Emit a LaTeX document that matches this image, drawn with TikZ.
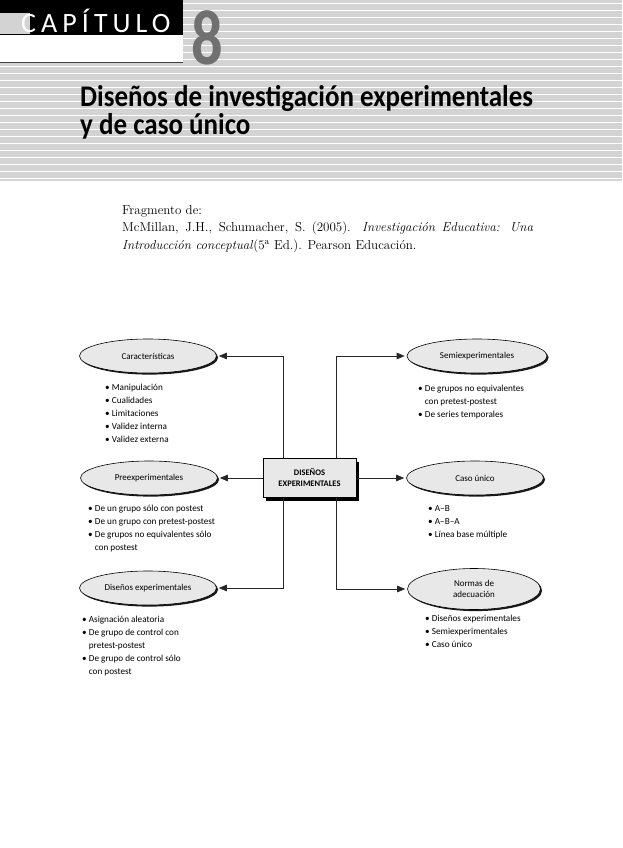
\documentclass[tikz,border=0pt]{standalone}
\usepackage{fontspec}
\usepackage{tikz}
\usetikzlibrary{positioning, arrows.meta, shapes.geometric, shadows}
\newfontfamily\diag{Carlito}
\newfontfamily\cond[FakeStretch=0.8]{Carlito}
\newfontfamily\tfont[FakeStretch=0.9]{Carlito}
\definecolor{HeadGray}{RGB}{211,211,211}
\definecolor{NumGray}{RGB}{112,112,112}
\definecolor{EllFill}{RGB}{232,232,232}
\tikzset{
  elip/.style={ellipse, draw=black, line width=0.6pt, fill=EllFill, minimum width=137pt, minimum height=34pt,
    inner sep=0pt, align=center, font=\diag\fontsize{9}{11}\selectfont,
    drop shadow={shadow xshift=1.6pt, shadow yshift=-1.6pt, fill=black, opacity=0.9}},
  cbox/.style={draw=black, line width=0.6pt, fill=EllFill, minimum width=93pt, minimum height=39pt,
    align=center, font=\diag\bfseries\fontsize{8.5}{11}\selectfont,
    drop shadow={shadow xshift=3pt, shadow yshift=-3pt, fill=black, opacity=1}},
  blist/.style={anchor=north west, inner sep=0pt, align=left, font=\diag\fontsize{9.2}{13}\selectfont},
  titl/.style={anchor=base west, inner sep=0pt, font=\tfont\bfseries\fontsize{30}{30}\selectfont},
  cite/.style={anchor=base west, inner sep=0pt, font=\fontsize{13}{15}\selectfont},
  arr/.style={-{Triangle[length=8pt,width=6.5pt]}, line width=0.6pt, draw=black!85, shorten >=2pt},
}
\newcommand{\itm}{\textbullet\ }
\newcommand{\ind}{\phantom{\textbullet}\ }

\begin{document}
\begin{tikzpicture}[x=1pt, y=-1pt]
  \useasboundingbox (0,0) rectangle (622,848);
  % cabecera
  \fill[HeadGray] (0,0) rectangle (622,181);
  \foreach \k in {0,...,25}
    \draw[white, line width=1.3pt] (0,{3.5+7*\k}) -- (622,{3.5+7*\k});
  \fill[black] (0,0) rectangle (183,35);
  \fill[HeadGray] (0,13) rectangle (30,34);
  \fill[white] (0,35) rectangle (183,62);
  \draw[black!75, line width=1.5pt] (0,62.5) -- (183,62.5);
  \node[anchor=base west, inner sep=0pt, text=white, font=\diag\fontsize{28}{28}\selectfont] (cap) at (21,33)
    {\addfontfeature{LetterSpace=18}CAPÍTULO};
  \node[anchor=base, inner sep=0pt, text=NumGray, font=\cond\bfseries\fontsize{78}{78}\selectfont] (num) at (207,65) {8};
  \node[titl] (tit1) at (80,107) {Diseños de investigación experimentales};
  \node[titl] (tit2) at (80,135) {y de caso único};
  % referencia
  \node[cite] (frag) at (122,214) {Fragmento de:};
  \node[cite] (ref1) at (122,231)
    {\makebox[411pt][s]{McMillan, J.H., Schumacher, S. (2005). \textit{Investigación Educativa: Una}}};
  \node[cite] (ref2) at (122,249) {\textit{Introducción conceptual}(5\textsuperscript{a} Ed.). Pearson Educación.};
  % esquema
  \node[cbox] (dis) at (309.5,478) {DISEÑOS\\EXPERIMENTALES};
  \node[elip] (car) at (148,356) {Características};
  \node[elip] (pre) at (149,478) {Preexperimentales};
  \node[elip] (exp) at (148,588) {Diseños experimentales};
  \node[elip, minimum width=140pt] (semi) at (477,356) {Semiexperimentales};
  \node[elip] (caso) at (475,478) {Caso único};
  \node[elip, minimum width=133pt, minimum height=41pt] (norm) at (474,589) {Normas de\\adecuación};
  \coordinate (lx) at (283,0);
  \coordinate (rx) at (336,0);
  \draw[arr] (dis.north -| lx) |- (car.east);
  \draw[arr] (dis.west) -- (pre.east);
  \draw[arr] (dis.south -| lx) |- (exp.east);
  \draw[arr] (dis.north -| rx) |- (semi.west);
  \draw[arr] (dis.east) -- (caso.west);
  \draw[arr] (dis.south -| rx) |- (norm.west);
  \node[blist] (lcar) at (105,384) {\itm Manipulación\\\itm Cualidades\\\itm Limitaciones\\\itm Validez interna\\\itm Validez externa};
  \node[blist] (lpre) at (88,505) {\itm De un grupo sólo con postest\\\itm De un grupo con pretest-postest\\\itm De grupos no equivalentes sólo\\\ind con postest};
  \node[blist] (lexp) at (82,616) {\itm Asignación aleatoria\\\itm De grupo de control con\\\ind pretest-postest\\\itm De grupo de control sólo\\\ind con postest};
  \node[blist] (lsemi) at (418,385) {\itm De grupos no equivalentes\\\ind con pretest-postest\\\itm De series temporales};
  \node[blist] (lcaso) at (428,505) {\itm A–B\\\itm A–B–A\\\itm Línea base múltiple};
  \node[blist] (lnorm) at (425,615) {\itm Diseños experimentales\\\itm Semiexperimentales\\\itm Caso único};
\end{tikzpicture}
\end{document}
